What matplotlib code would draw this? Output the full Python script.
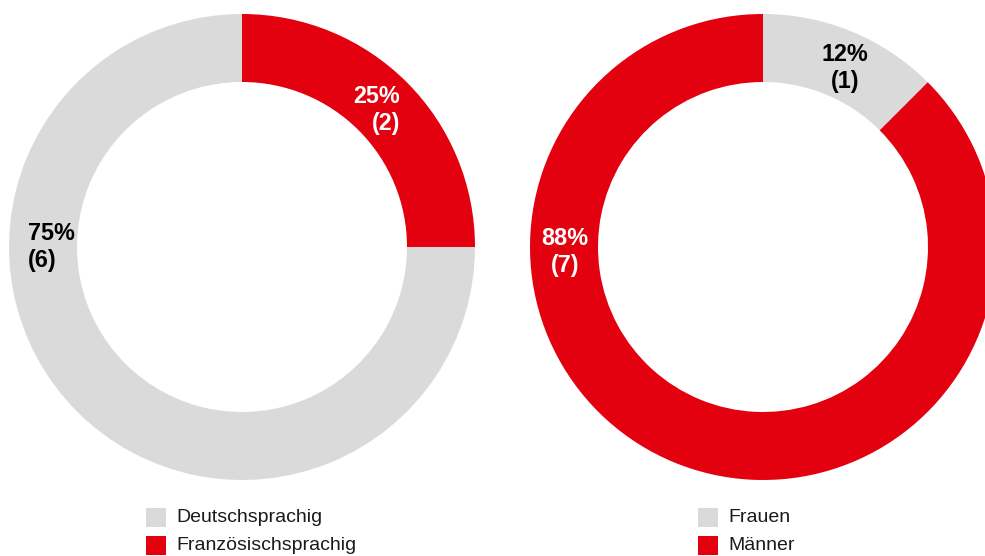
import matplotlib.pyplot as plt
from matplotlib.patches import Rectangle
import numpy as np

plt.rcParams['font.family'] = ['Liberation Sans', 'DejaVu Sans']

RED = "#E3000F"
GREY = "#D9DAD9"

# left donut: language
lang_labels = ["Französischsprachig", "Deutschsprachig"]
lang_counts = [2, 6]
lang_pct = ["25%", "75%"]

# right donut: gender
gender_labels = ["Frauen", "Männer"]
gender_counts = [1, 7]
gender_pct = ["12%", "88%"]

W, H = 985, 556
fig = plt.figure(figsize=(W / 100, H / 100), dpi=100, facecolor='w')
ax = fig.add_axes([0, 0, 1, 1])

R_OUT = 233
R_IN = 165


def donut(center, counts, colors, pcts, text_colors, lab_angles, lab_radii, aligns):
    cx, cy = center
    ax.pie(counts, colors=colors, startangle=90, counterclock=False,
           center=(cx, H - cy), radius=R_OUT,
           wedgeprops=dict(width=R_OUT - R_IN, linewidth=0), frame=True)
    for n, pct, tc, ang, r, al in zip(counts, pcts, text_colors, lab_angles, lab_radii, aligns):
        x = cx + r * np.cos(np.radians(ang))
        y = (H - cy) + r * np.sin(np.radians(ang))
        ax.text(x, y, "%s\n(%d)" % (pct, n), ha='center', va='center', multialignment=al,
                color=tc, fontsize=16.8, fontweight='bold', linespacing=1.2)


donut((242, 247), lang_counts, [RED, GREY], lang_pct, ['white', 'black'],
      [45.5, 180.0], [192, 191], ['right', 'left'])
donut((763, 247), gender_counts, [GREY, RED], gender_pct, ['black', 'white'],
      [65.5, 181.5], [197, 198], ['center', 'center'])


def legend(x0, labels, colors):
    for i, (lab, col) in enumerate(zip(labels, colors)):
        yc = 517 + 28.5 * i
        ax.add_patch(Rectangle((x0, H - yc - 9.5), 20, 19, facecolor=col, edgecolor='none'))
        ax.text(x0 + 30, H - yc, lab, ha='left', va='center', fontsize=14, color='#1a1a1a')


legend(146, ["Deutschsprachig", "Französischsprachig"], [GREY, RED])
legend(698, gender_labels, [GREY, RED])

ax.set_xlim(0, W)
ax.set_ylim(0, H)
ax.set_aspect('auto')
ax.axis('off')

plt.savefig("out.png", dpi=100, facecolor='w')
